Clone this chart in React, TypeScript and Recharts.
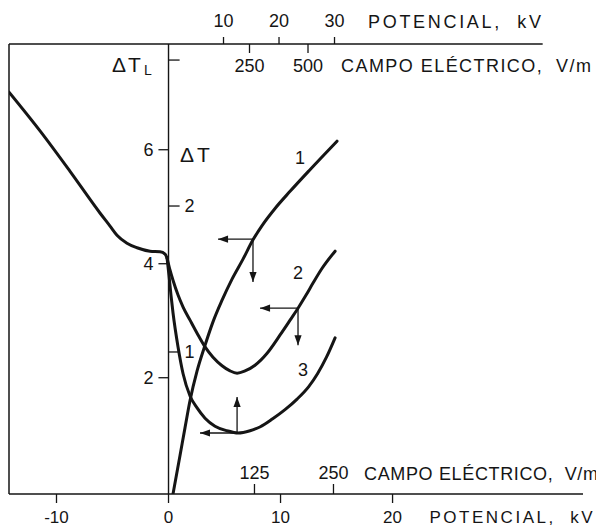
import React from 'react';
import { LineChart, Line, XAxis, YAxis, ReferenceLine, ReferenceDot } from 'recharts';

const FONT = '"Liberation Sans", Arial, sans-serif';
const INK = '#151515';

// ---- axes (bottom potential axis is the main x scale, ΔT_L the main y scale)
const KV_DOMAIN = [-14.24, 37.0];
const KV_TICKS = [-10, 0, 10, 20];
const TOP_KV_DOMAIN = [-28.65, 74.77];
const TOP_KV_TICKS = [10, 20, 30];
const TOP_FIELD_DOMAIN = [-777.8, 1675.2];
const TOP_FIELD_TICKS = [250, 500];
const BOTTOM_FIELD_DOMAIN = [-263.4, 644.8];
const BOTTOM_FIELD_TICKS = [125, 250];
const TL_DOMAIN = [-0.04, 7.855];
const TL_TICKS = [2, 4, 6];
const DT_DOMAIN = [0.027, 3.11];
const DT_TICKS = [1, 2, 3];
const DT_TICK_LABELS = ['1', '2', ''];
const TOP_LINE_END = 33.4;
const TICK_LEN = 0.9;

// ---- curves (x: potential kV, y: ΔT_L)
const CURVE_LEFT = [
  { x: -14.24, y: 7.01 }, { x: -11.47, y: 6.33 }, { x: -8.79, y: 5.62 }, { x: -6.12, y: 4.89 },
  { x: -5.22, y: 4.66 }, { x: -4.6, y: 4.5 }, { x: -3.71, y: 4.36 }, { x: -2.81, y: 4.28 },
  { x: -1.65, y: 4.22 }, { x: -0.76, y: 4.21 }, { x: -0.31, y: 4.17 }, { x: -0.13, y: 4.1 },
];
const CURVE_1 = [
  { x: 0.4, y: -0.04 }, { x: 1.03, y: 0.64 }, { x: 1.47, y: 1.12 }, { x: 1.92, y: 1.6 },
  { x: 2.55, y: 2.12 }, { x: 3.26, y: 2.57 }, { x: 3.97, y: 2.98 }, { x: 4.78, y: 3.36 },
  { x: 5.67, y: 3.73 }, { x: 6.65, y: 4.08 }, { x: 7.54, y: 4.42 }, { x: 8.35, y: 4.67 },
  { x: 9.51, y: 4.97 }, { x: 10.85, y: 5.27 }, { x: 12.63, y: 5.65 }, { x: 15.04, y: 6.15 },
];
const CURVE_2 = [
  { x: -0.13, y: 4.1 }, { x: 0.13, y: 3.89 }, { x: 0.4, y: 3.71 }, { x: 0.85, y: 3.45 },
  { x: 1.3, y: 3.24 }, { x: 1.92, y: 3.01 }, { x: 2.55, y: 2.78 }, { x: 3.26, y: 2.54 },
  { x: 3.97, y: 2.36 }, { x: 4.78, y: 2.21 }, { x: 5.49, y: 2.12 }, { x: 6.12, y: 2.08 },
  { x: 6.83, y: 2.12 }, { x: 7.72, y: 2.22 }, { x: 8.8, y: 2.43 }, { x: 9.96, y: 2.75 },
  { x: 10.85, y: 3.01 }, { x: 11.56, y: 3.22 }, { x: 12.28, y: 3.45 }, { x: 12.9, y: 3.66 },
  { x: 13.71, y: 3.92 }, { x: 14.87, y: 4.22 },
];
const CURVE_3 = [
  { x: -0.13, y: 4.1 }, { x: 0.04, y: 3.8 }, { x: 0.22, y: 3.45 }, { x: 0.4, y: 3.14 },
  { x: 0.85, y: 2.54 }, { x: 1.3, y: 2.07 }, { x: 1.92, y: 1.68 }, { x: 2.55, y: 1.47 },
  { x: 3.26, y: 1.29 }, { x: 4.15, y: 1.15 }, { x: 5.22, y: 1.07 }, { x: 6.21, y: 1.03 },
  { x: 7.28, y: 1.07 }, { x: 8.2, y: 1.14 }, { x: 9.3, y: 1.28 }, { x: 10.4, y: 1.44 },
  { x: 11.5, y: 1.63 }, { x: 12.5, y: 1.84 }, { x: 13.3, y: 2.07 }, { x: 14.1, y: 2.36 },
  { x: 14.87, y: 2.7 },
];

// ---- arrows (start on a curve, end with a head)
const ARROWS = [
  [{ x: 7.54, y: 4.43 }, { x: 4.42, y: 4.43, head: 'left' }],
  [{ x: 7.54, y: 4.43 }, { x: 7.54, y: 3.68, head: 'down' }],
  [{ x: 11.56, y: 3.22 }, { x: 8.17, y: 3.22, head: 'left' }],
  [{ x: 11.56, y: 3.22 }, { x: 11.56, y: 2.57, head: 'down' }],
  [{ x: 6.12, y: 1.03 }, { x: 6.12, y: 1.66, head: 'up' }],
  [{ x: 6.12, y: 1.03 }, { x: 2.81, y: 1.03, head: 'left' }],
];

const CURVE_LABELS = [
  { id: '1', x: 11.74, y: 5.87 },
  { id: '2', x: 11.56, y: 3.84 },
  { id: '3', x: 12.01, y: 2.14 },
];

const ArrowHead = (props: any) => {
  const { cx, cy, payload, index } = props;
  if (!payload || !payload.head || cx == null || cy == null) return <g key={`n${index}`} />;
  const L = 10;
  const W = 3.6;
  let pts = '';
  if (payload.head === 'left') pts = `${cx},${cy} ${cx + L},${cy - W} ${cx + L},${cy + W}`;
  else if (payload.head === 'down') pts = `${cx},${cy} ${cx - W},${cy - L} ${cx + W},${cy - L}`;
  else pts = `${cx},${cy} ${cx - W},${cy + L} ${cx + W},${cy + L}`;
  return <polygon key={`h${index}`} points={pts} fill={INK} stroke="none" />;
};

const Titles = (props: any) => {
  const vb = props.viewBox || {};
  if (vb.x == null) return null;
  const x0 = vb.x;
  const top = vb.y;
  const bottom = vb.y + vb.height;
  const t = { fill: INK, fontFamily: FONT } as any;
  const gap = '\u00A0\u00A0';
  return (
    <g>
      <text {...t} x={x0 - 56.5} y={top + 28} fontSize={21} letterSpacing={2}>
        ΔT<tspan fontSize={14} dy={3} dx={1}>L</tspan>
      </text>
      <text {...t} x={x0 + 11.5} y={top + 118} fontSize={21} letterSpacing={3}>ΔT</text>
      <text {...t} x={x0 + 199.5} y={top - 16.5} fontSize={18} textLength={173} lengthAdjust="spacing">
        {`POTENCIAL,${gap}kV`}
      </text>
      <text {...t} x={x0 + 172.5} y={top + 27.5} fontSize={18} textLength={250} lengthAdjust="spacing">
        {`CAMPO ELÉCTRICO,${gap}V/m`}
      </text>
      <text {...t} x={x0 + 195.5} y={bottom - 14.5} fontSize={18} textLength={234} lengthAdjust="spacing">
        {`CAMPO ELÉCTRICO,${gap}V/m`}
      </text>
      <text {...t} x={x0 + 261} y={bottom + 29} fontSize={17} textLength={163} lengthAdjust="spacing">
        {`POTENCIAL,${gap}kV`}
      </text>
    </g>
  );
};

const tickStyle = { fill: INK, fontSize: 18, fontFamily: FONT };
const bottomTickStyle = { fill: INK, fontSize: 17, fontFamily: FONT };
const tickLineStyle = { stroke: INK, strokeWidth: 1.3 };

export default function App() {
  return (
    <LineChart width={596} height={521} margin={{ top: 6, right: 21, bottom: 5, left: 1 }}>
      <XAxis
        xAxisId="kv" type="number" dataKey="x" domain={KV_DOMAIN} allowDataOverflow ticks={KV_TICKS}
        interval={0} orientation="bottom" height={30} tickSize={9} tickMargin={8}
        axisLine={{ stroke: INK, strokeWidth: 1.5 }} tickLine={tickLineStyle} tick={bottomTickStyle}
      />
      <XAxis
        xAxisId="fBot" type="number" dataKey="x" domain={BOTTOM_FIELD_DOMAIN} allowDataOverflow
        ticks={BOTTOM_FIELD_TICKS} interval={0} orientation="bottom" mirror height={30} tickSize={10}
        tickMargin={5} axisLine={false} tickLine={tickLineStyle} tick={tickStyle}
      />
      <XAxis
        xAxisId="kvTop" type="number" dataKey="x" domain={TOP_KV_DOMAIN} allowDataOverflow
        ticks={TOP_KV_TICKS} interval={0} orientation="top" height={30} tickSize={7} tickMargin={10}
        axisLine={false} tickLine={tickLineStyle} tick={tickStyle}
      />
      <XAxis
        xAxisId="fTop" type="number" dataKey="x" domain={TOP_FIELD_DOMAIN} allowDataOverflow
        ticks={TOP_FIELD_TICKS} interval={0} orientation="top" mirror height={30} tickSize={9}
        tickMargin={6} axisLine={false} tickLine={tickLineStyle} tick={tickStyle}
      />
      <YAxis yAxisId="tl" type="number" domain={TL_DOMAIN} allowDataOverflow hide />
      <YAxis yAxisId="dt" type="number" domain={DT_DOMAIN} allowDataOverflow hide />

      {/* frame: left edge and top line */}
      <ReferenceLine xAxisId="kv" yAxisId="tl" x={KV_DOMAIN[0]} stroke={INK} strokeWidth={1.5} ifOverflow="visible" />
      <ReferenceLine
        xAxisId="kv" yAxisId="tl" ifOverflow="visible" stroke={INK} strokeWidth={1.5}
        segment={[{ x: KV_DOMAIN[0], y: TL_DOMAIN[1] }, { x: TOP_LINE_END, y: TL_DOMAIN[1] }]}
      />
      {/* central vertical axis with titles */}
      <ReferenceLine xAxisId="kv" yAxisId="tl" x={0} stroke={INK} strokeWidth={1.4} ifOverflow="visible" label={Titles} />

      {TL_TICKS.map((v) => (
        <ReferenceLine
          key={`tl${v}`} xAxisId="kv" yAxisId="tl" ifOverflow="visible" stroke={INK} strokeWidth={1.3}
          segment={[{ x: -TICK_LEN, y: v }, { x: 0, y: v }]}
          label={{ value: String(v), position: 'left', offset: 5, fill: INK, fontSize: 18, fontFamily: FONT }}
        />
      ))}
      {DT_TICKS.map((v, i) => (
        <ReferenceLine
          key={`dt${v}`} xAxisId="kv" yAxisId="dt" ifOverflow="visible" stroke={INK} strokeWidth={1.3}
          segment={[{ x: 0, y: v }, { x: TICK_LEN * 1.1, y: v }]}
          label={DT_TICK_LABELS[i] ? { value: DT_TICK_LABELS[i], position: 'right', offset: 5, fill: INK, fontSize: 18, fontFamily: FONT } : undefined}
        />
      ))}

      {[CURVE_LEFT, CURVE_1, CURVE_2, CURVE_3].map((d, i) => (
        <Line
          key={`c${i}`} data={d} dataKey="y" xAxisId="kv" yAxisId="tl" type="monotone" stroke={INK}
          strokeWidth={3} dot={false} activeDot={false} isAnimationActive={false} legendType="none"
          strokeLinecap="round" strokeLinejoin="round"
        />
      ))}
      {ARROWS.map((d, i) => (
        <Line
          key={`a${i}`} data={d} dataKey="y" xAxisId="kv" yAxisId="tl" type="linear" stroke={INK}
          strokeWidth={1.3} dot={ArrowHead} activeDot={false} isAnimationActive={false} legendType="none"
        />
      ))}
      {CURVE_LABELS.map((l) => (
        <ReferenceDot
          key={`l${l.id}`} xAxisId="kv" yAxisId="tl" x={l.x} y={l.y} r={0} fill="none" stroke="none"
          ifOverflow="visible"
          label={{ value: l.id, position: 'center', fill: INK, fontSize: 18, fontFamily: FONT }}
        />
      ))}
    </LineChart>
  );
}
